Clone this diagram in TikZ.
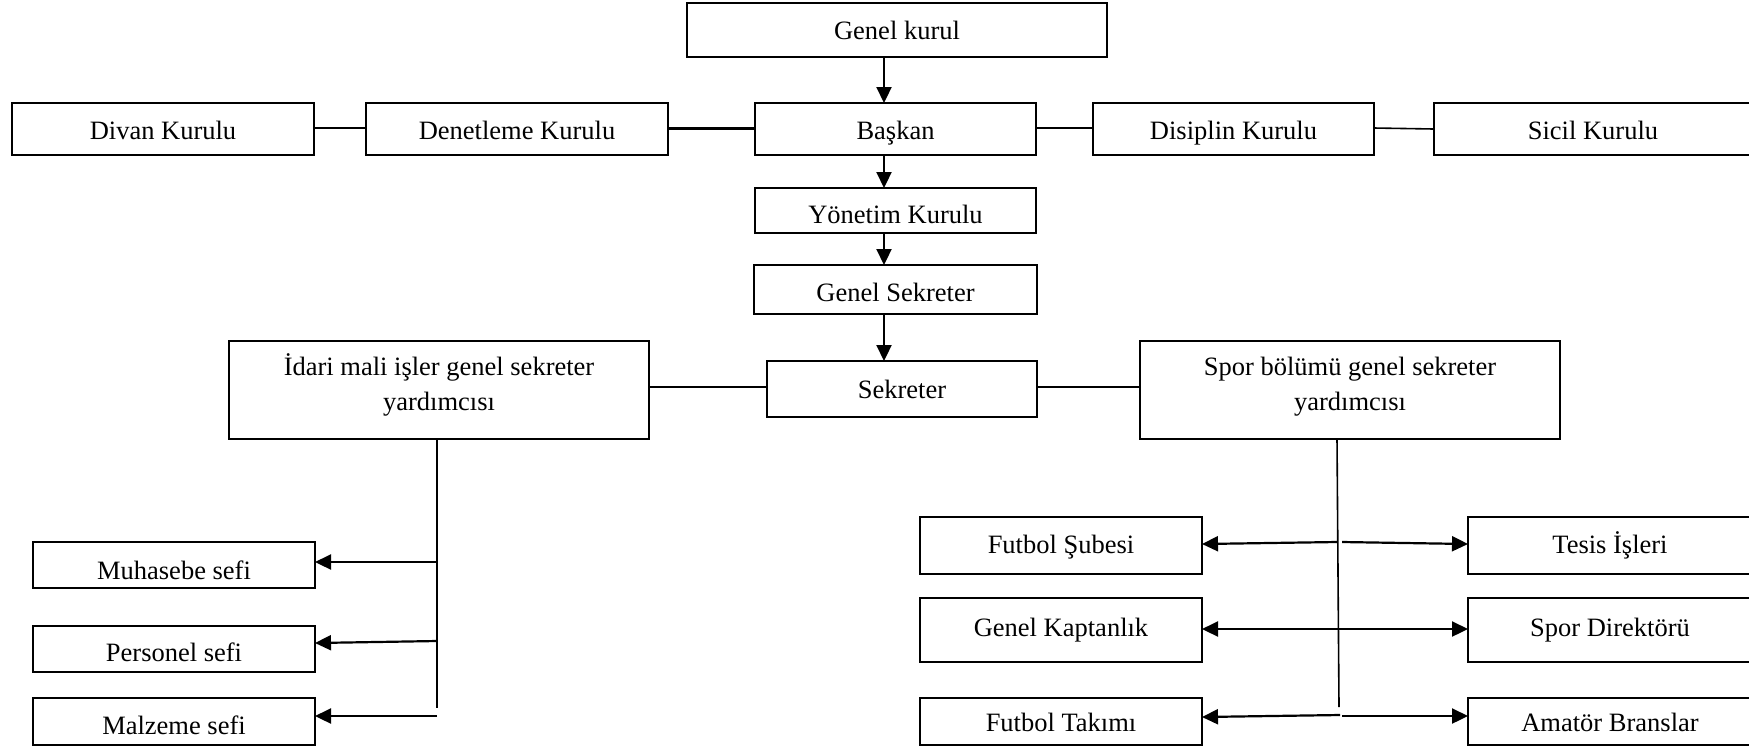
\documentclass[tikz,border=0pt]{standalone}
\usepackage{fontspec}
\setmainfont{Liberation Serif}
\usetikzlibrary{arrows.meta}
\begin{document}
\begin{tikzpicture}[x=0.5pt,y=-0.5pt,
  box/.style={draw, line width=0.7pt, inner sep=0pt, outer sep=0pt,
    font=\fontsize{13.25pt}{17.5pt}\selectfont},
  one/.style={box, text height=#1, text depth=2.6pt},
  one/.default=9.4pt,
  two/.style={box, text height=22.4pt, text depth=19.2pt},
  wh/.style 2 args={minimum width=#1*0.5pt, minimum height=#2*0.5pt},
  arr/.style={line width=1.1pt, -{Triangle[length=8pt,width=7.5pt]}},
  darr/.style={line width=1.1pt, {Triangle[length=8pt,width=7.5pt]}-{Triangle[length=8pt,width=7.5pt]}},
  conn/.style={line width=0.8pt},
  thickconn/.style={line width=1.5pt}]
\useasboundingbox (0,0) rectangle (1749,746);
% top part
\node[one=11.6pt, wh={420}{54}] (genel) at (897,30) {Genel kurul};
\node[one=12.8pt, wh={302}{52}] (divan) at (163,129) {Divan Kurulu};
\node[one=12.8pt, wh={302}{52}] (denet) at (517,129) {Denetleme Kurulu};
\node[one=12.8pt, wh={281}{52}] (baskan) at (895.5,129) {Başkan};
\node[one=12.8pt, wh={281}{52}] (disiplin) at (1233.5,129) {Disiplin Kurulu};
\node[one=12.8pt, wh={318}{52}] (sicil) at (1593,129) {Sicil Kurulu};
\node[one=16pt, wh={281}{45}] (yonetim) at (895.5,210.5) {Yönetim Kurulu};
\node[one=15pt, wh={283}{49}] (gensek) at (895.5,289.5) {Genel Sekreter};
\node[one=11.6pt, wh={270}{56}] (sekreter) at (902,389) {Sekreter};
\node[two, wh={420}{98}] (idari) at (439,390) {\begin{tabular}{@{}c@{}}İdari mali işler genel sekreter\\yardımcısı\end{tabular}};
\node[two, wh={420}{98}] (spor) at (1350,390) {\begin{tabular}{@{}c@{}}Spor bölümü genel sekreter\\yardımcısı\end{tabular}};
% left column
\node[one=17.2pt, wh={282}{46}] (muhasebe) at (174,565) {Muhasebe sefi};
\node[one=15pt, wh={282}{46}] (personel) at (174,649) {Personel sefi};
\node[one=16pt, wh={282}{47}] (malzeme) at (174,721.5) {Malzeme sefi};
% right columns
\node[one=10.4pt, wh={282}{57}] (fsube) at (1061,545.5) {Futbol Şubesi};
\node[one, wh={282}{64}] (gkapt) at (1061,630) {Genel Kaptanlık};
\node[one=12.8pt, wh={282}{47}] (ftakim) at (1061,721.5) {Futbol Takımı};
\node[one=10.4pt, wh={284}{57}] (tesis) at (1610,545.5) {Tesis İşleri};
\node[one, wh={284}{64}] (spordir) at (1610,630) {Spor Direktörü};
\node[one=12.8pt, wh={284}{47}] (amator) at (1610,721.5) {Amatör Branslar};
% vertical chain
\coordinate (cx) at (884,0);
\draw[arr] (genel.south -| cx) -- (baskan.north -| cx);
\draw[arr] (baskan.south -| cx) -- (yonetim.north -| cx);
\draw[arr] (yonetim.south -| cx) -- (gensek.north -| cx);
\draw[arr] (gensek.south -| cx) -- (sekreter.north -| cx);
% horizontal links
\draw[conn] ([yshift=0.5pt]divan.east) -- ([yshift=0.5pt]denet.west);
\draw[thickconn] ([yshift=0.5pt]denet.east) -- ([yshift=0.5pt]baskan.west);
\draw[conn] ([yshift=0.5pt]baskan.east) -- ([yshift=0.5pt]disiplin.west);
\draw[conn] ([yshift=0.5pt]disiplin.east) -- (sicil.west);
\draw[conn] ([yshift=1.5pt]idari.east) -- ([yshift=1pt]sekreter.west);
\draw[conn] ([yshift=1pt]sekreter.east) -- ([yshift=1.5pt]spor.west);
% left trunk
\coordinate (itend) at (437,708);
\coordinate (it1) at (437,562);
\coordinate (it2) at (437,641);
\coordinate (it3) at (437,716);
\draw[conn] ([xshift=-1pt]idari.south) -- (itend);
\draw[line width=1pt] ([xshift=-1pt]idari.south) -- ([xshift=60pt]idari.south);
\draw[arr] (it1) -- ([yshift=1.5pt]muhasebe.east);
\draw[arr] (it2) -- ([yshift=3pt]personel.east);
\draw[arr] (it3) -- ([yshift=2.75pt]malzeme.east);
% right trunk
\coordinate (stend) at (1339,707);
\coordinate (sl1) at (1337,542);
\coordinate (sr1) at (1342,542);
\coordinate (sl3) at (1340,715);
\coordinate (sr3) at (1342,716);
\draw[conn] ([xshift=-6.5pt]spor.south) -- (stend);
\draw[arr] (sl1) -- ([yshift=0.75pt]fsube.east);
\draw[arr] (sr1) -- ([yshift=0.75pt]tesis.west);
\draw[darr] ([yshift=0.5pt]gkapt.east) -- ([yshift=0.5pt]spordir.west);
\draw[arr] (sl3) -- ([yshift=2.25pt]ftakim.east);
\draw[arr] (sr3) -- ([yshift=2.75pt]amator.west);
\end{tikzpicture}
\end{document}
